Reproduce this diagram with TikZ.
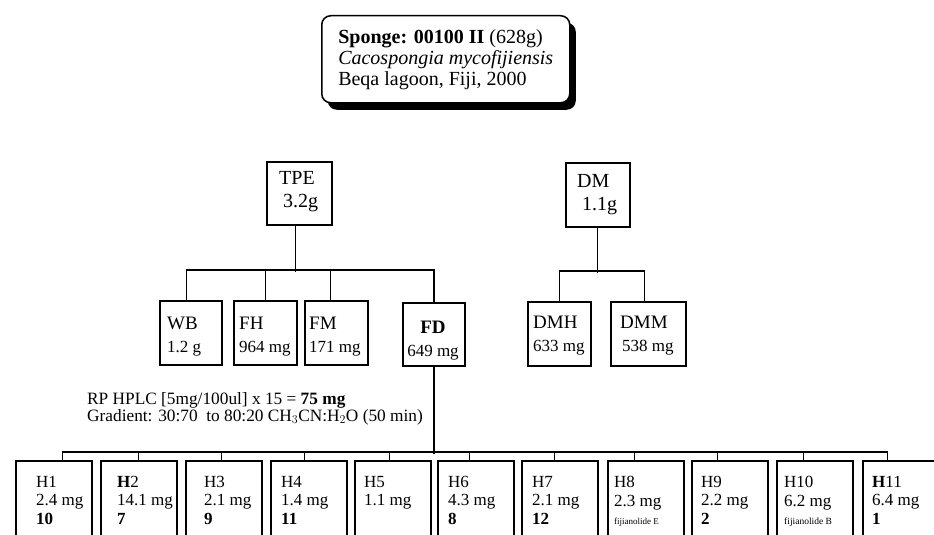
\documentclass[tikz,border=0pt]{standalone}
\usepackage{fontspec}
\setmainfont{Liberation Serif}
\usetikzlibrary{shadows}
\begin{document}
\begin{tikzpicture}[x=1pt,y=-1pt,
  box/.style={draw, line width=1.5pt, inner sep=0pt, anchor=north west},
  conn/.style={line width=1.4pt},
  txt/.style={anchor=north west, inner sep=0pt, align=left},
  toptxt/.style={txt, font=\fontsize{20}{23}\selectfont},
  midtxt/.style={txt, font=\fontsize{19}{23}\selectfont},
  bottxt/.style={txt, font=\fontsize{17}{18.5}\selectfont},
]
\useasboundingbox (0,0) rectangle (934,535);
\clip (0,0) rectangle (934,535);

% sponge box
\node[box, rounded corners=9pt, fill=white, minimum width=248pt, minimum height=87pt,
      align=left, font=\fontsize{20}{21}\selectfont,
      drop shadow={shadow xshift=6pt, shadow yshift=-7pt, fill=black, opacity=1}]
  (sponge) at (321,15)
  {\textbf{Sponge: 00100 II} (628g)\\\textit{Cacospongia mycofijiensis}\\Beqa lagoon, Fiji, 2000};

% TPE and DM
\node[box, minimum width=65pt, minimum height=63pt] (tpe) at (266,161) {};
\node[toptxt] (tpet) at (279,171.5) {TPE\\\hspace*{4pt}3.2g};
\node[box, minimum width=64pt, minimum height=64pt] (dm) at (565,162) {};
\node[toptxt] (dmt) at (577,174) {DM\\\hspace*{5pt}1.1g};

% second level
\node[box, minimum width=62pt, minimum height=64pt] (wb) at (159,300) {};
\node[midtxt] (wbt) at (167,316.5) {WB\\{\fontsize{17}{23}\selectfont 1.2 g}};
\node[box, minimum width=63pt, minimum height=64pt] (fh) at (233,300) {};
\node[midtxt] (fht) at (239,316.5) {FH\\{\fontsize{17}{23}\selectfont 964 mg}};
\node[box, minimum width=63pt, minimum height=64pt] (fm) at (304,300) {};
\node[midtxt] (fmt) at (309,316.5) {FM\\{\fontsize{17}{23}\selectfont 171 mg}};
\node[box, line width=1.8pt, minimum width=62pt, minimum height=63pt] (fd) at (402,302) {};
\node[midtxt, anchor=north, align=center] (fdt) at (433,320.5) {\textbf{FD}\\{\fontsize{17}{23}\selectfont 649 mg}};
\node[box, minimum width=63pt, minimum height=64pt] (dmh) at (527,301) {};
\node[midtxt] (dmht) at (533,316) {DMH\\{\fontsize{17}{23}\selectfont 633 mg}};
\node[box, minimum width=75pt, minimum height=64pt] (dmm) at (610,301) {};
\node[midtxt] (dmmt) at (620,316) {DMM\\{\fontsize{17}{23}\selectfont \hspace*{2pt}538 mg}};

% HPLC note
\node[txt, font=\fontsize{17.3}{17}\selectfont] (hplc) at (87,392)
  {RP HPLC [5mg/100ul] x 15 = \textbf{75 mg}\\Gradient: 30:70~~to 80:20 CH$_3$CN:H$_2$O (50 min)};

% bottom boxes
\foreach \n/\l in {h1/15, h2/100, h3/185, h4/270, h5/354, h6/437,
                   h7/521, h8/607, h9/691, h10/776, h11/862}{
  \node[box, minimum width=76pt, minimum height=90pt] (\n) at (\l,460) {};
}
\node[bottxt] (h1t) at (36,476) {H1\\2.4 mg\\\textbf{10}};
\node[bottxt] (h2t) at (117,476) {\textbf{H}2\\14.1 mg\\\textbf{7}};
\node[bottxt] (h3t) at (204,476) {H3\\2.1 mg\\\textbf{9}};
\node[bottxt] (h4t) at (281,476) {H4\\1.4 mg\\\textbf{11}};
\node[bottxt] (h5t) at (364,476) {H5\\1.1 mg};
\node[bottxt] (h6t) at (448,476) {H6\\4.3 mg\\\textbf{8}};
\node[bottxt] (h7t) at (532,476) {H7\\2.1 mg\\\textbf{12}};
\node[bottxt] (h8t) at (614,476) {H8\\2.3 mg\\{\fontsize{9}{18.5}\selectfont fijianolide E}};
\node[bottxt] (h9t) at (701,476) {H9\\2.2 mg\\\textbf{2}};
\node[bottxt] (h10t) at (784,476) {H10\\6.2 mg\\{\fontsize{9.5}{18.5}\selectfont fijianolide B}};
\node[bottxt] (h11t) at (872,476) {\textbf{H}11\\6.4 mg\\\textbf{1}};

% connectors top tree
\draw[conn] ([xshift=-4pt]tpe.south) -- ++(0,46);
\draw[conn] ([xshift=-4pt]wb.north) -- ++(0,-30) -| (fd.north);
\draw[conn] (fh.north) -- ++(0,-30);
\draw[conn] ([xshift=-6pt]fm.north) -- ++(0,-30);
\draw[conn] (dm.south) -- ++(0,45);
\draw[conn] (dmh.north) -- ++(0,-30) -| ([xshift=-3.5pt]dmm.north);

% connectors bottom tree
\draw[conn] (fd.south) -- ++(0,87);
\draw[conn] ([xshift=9pt]h1.north) -- ++(0,-8) -| ([xshift=-13pt]h11.north);
\foreach \n/\s in {h2/0, h3/-2, h4/-4, h5/-3, h6/-6, h7/-5, h8/-11.5, h9/-12, h10/-11.5}{
  \draw[conn] ([xshift=\s pt]\n.north) -- ++(0,-8);
}
\end{tikzpicture}
\end{document}
